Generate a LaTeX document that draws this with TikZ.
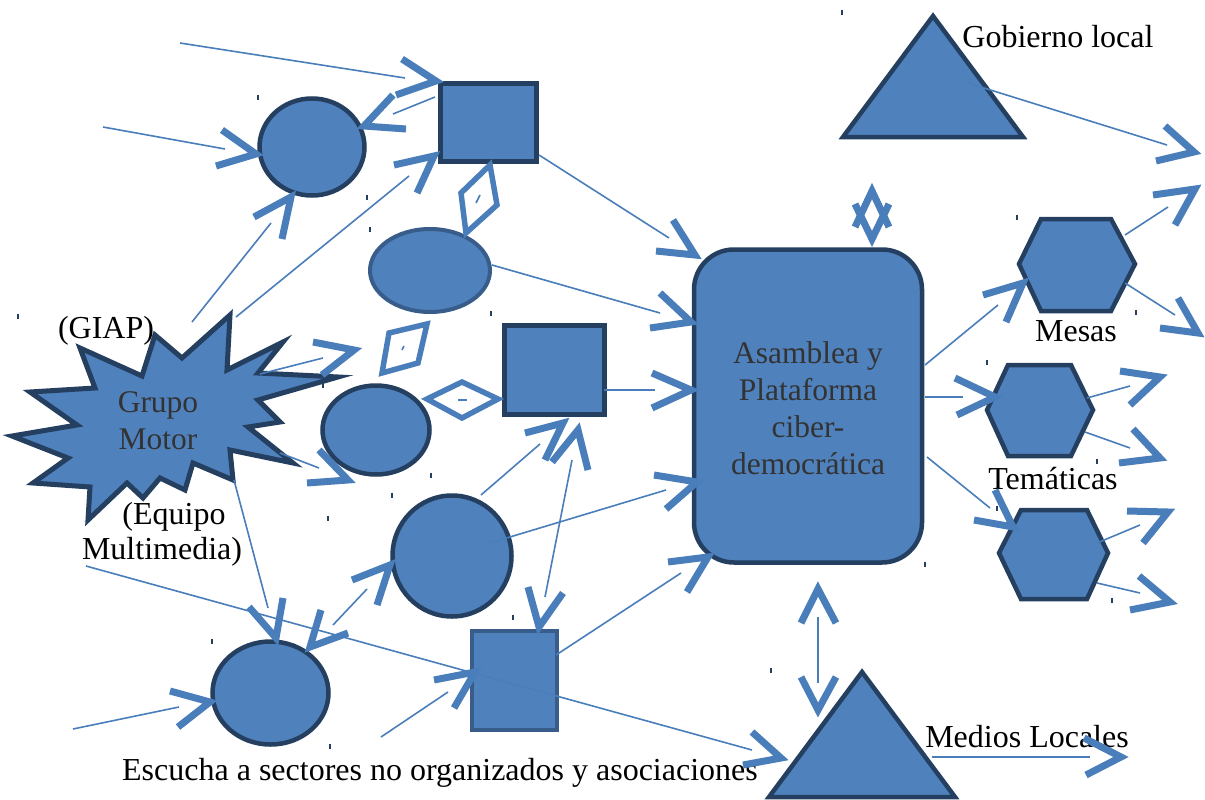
\documentclass[tikz,border=0pt]{standalone}
\usepackage{fontspec}
\setmainfont{Liberation Serif}
\usetikzlibrary{shapes.geometric}
\definecolor{fillb}{HTML}{4F81BD}
\definecolor{edge}{HTML}{243F60}
\definecolor{edgeb}{HTML}{385D8A}
\definecolor{lnb}{HTML}{4A7EBB}
\definecolor{txtg}{HTML}{333333}
\tikzset{
 shp/.style={fill=fillb, draw=edge, line width=4.5pt},
 shpb/.style={fill=fillb, draw=edgeb, line width=4pt},
 ell/.style={ellipse, inner sep=0pt, outer sep=0pt},
 boxn/.style={rectangle, inner sep=0pt, outer sep=0pt},
 conn/.style={draw=lnb, line width=1.6pt},
 chev/.style={draw=lnb, line width=7pt, line join=miter, miter limit=10},
 dia/.style={draw=lnb, line width=5.5pt, line join=miter},
 tickm/.style={draw=edge, line width=1.2pt},
 lbl/.style={font=\fontsize{32}{37}\selectfont, text=black, inner sep=0pt, align=center},
 intxt/.style={font=\fontsize{31.5}{37}\selectfont, text=txtg, inner sep=0pt, align=center},
}
\newcommand\lnk[5]{\coordinate (#1s) at (#2); \coordinate (#1e) at (#3); \draw[conn] (#1s) -- (#1e);}
\newcommand\chv[3]{\draw[chev] (#1) -- (#2) -- (#3);}
\begin{document}
\begin{tikzpicture}[x=1pt,y=-1pt]
\useasboundingbox (0,0) rectangle (1205,800);
\fill[white] (0,0) rectangle (1205,800);
% shapes
\node[shp, ell, minimum width=105, minimum height=97] (c1) at (312,147) {};
\node[shp, boxn, minimum width=96, minimum height=78] (sq1) at (488.5,122.5) {};
\node[shpb, ell, minimum width=120, minimum height=83] (e2) at (430,270.5) {};
\node[shp, boxn, minimum width=100, minimum height=89] (sq2) at (554.5,370) {};
\node[shp, ell, minimum width=107, minimum height=89] (e5) at (376,430) {};
\node[shp, ell, minimum width=119, minimum height=121] (c6) at (452,556) {};
\node[shp, ell, minimum width=116, minimum height=103] (c7) at (270.5,693) {};
\node[shpb, boxn, minimum width=85, minimum height=99] (sq3) at (514.5,680.5) {};
\node[shp, boxn, rounded corners=40pt, minimum width=228, minimum height=313] (asm) at (808,406) {};
\node[intxt] (asmt) at (808,408) {Asamblea y\\Plataforma\\ciber-\\democrática};
% triangles
\draw[shp, line join=miter] (933,16) -- (1023,137) -- (843,137) -- cycle;
\draw[shp, line join=miter] (862,672) -- (955,797) -- (769,797) -- cycle;
% hexagons
\draw[shp] (1019,264) -- (1041,219) -- (1111,219) -- (1135,264) -- (1111,311) -- (1041,311) -- cycle;
\draw[shp] (987,410) -- (1008,365) -- (1071,365) -- (1093,410) -- (1071,456) -- (1008,456) -- cycle;
\draw[shp] (999,553) -- (1021,510) -- (1087,510) -- (1108,553) -- (1087,599) -- (1021,599) -- cycle;
% star
\draw[shp, line width=5pt, line join=miter] (80,348) -- (142,376) -- (155,335) -- (182,358) -- (230,315) -- (227,370) -- (283,342) -- (258,373) -- (338,377) -- (258,400) -- (280,422) -- (248,427) -- (293,463) -- (230,450) -- (233,480) -- (193,463) -- (185,490) -- (160,478) -- (143,498) -- (127,483) -- (88,520) -- (90,487) -- (33,483) -- (68,458) -- (12,436) -- (77,425) -- (30,392) -- (95,388) -- cycle;
\node[intxt] (gm) at (158,421) {Grupo\\Motor};
% labels
\node[lbl] (lgob) at (1058,37) {Gobierno local};
\node[lbl] (lmes) at (1076,331) {Mesas};
\node[lbl] (ltem) at (1053,479) {Temáticas};
\node[lbl] (lmed) at (1027,737) {Medios Locales};
\node[lbl] (lgiap) at (106,331) {(GIAP)};
\node[lbl] (leq) at (174,517) {(Equipo};
\node[lbl] (lmul) at (162,552) {Multimedia)};
\node[lbl] (lesc) at (440,773) {Escucha a sectores no organizados y asociaciones};
% ticks
\foreach \p in {(258,97),(367,197),(370,229),(491,313),(18,316),(842,13),(1017,217),(1136,312),(987,362),(431,475),(392,495),(328,518),(212,641),(513,617),(330,746),(1097,461),(997,508),(925,564),(1112,600),(771,670),(323,385)}
  \draw[tickm] \p ++(0,-2.5) -- ++(0,5);
% connectors
\lnk{A}{180,43}{405,78}{}{} \chv{402,59}{436,81}{396,95}
\lnk{B}{435,97}{393,114}{}{} \chv{393,95}{364,126}{406,129}
\lnk{C}{103,127}{225,149}{}{} \chv{222,130}{256,154}{216,166}
\lnk{D}{192,322}{271,223}{}{} \chv{254,217}{291,197}{282,239}
\lnk{E}{236,317}{409,176}{}{} \chv{394,165}{434,156}{417,193}
\lnk{G}{539,155}{669,238}{}{} \chv{673,220}{695,255}{656,251}
\lnk{H}{492,265}{660,313}{}{} \chv{660,293}{691,322}{650,328}
\lnk{I}{604,390}{655,390}{}{} \chv{652,373}{691,390}{652,408}
\lnk{L}{260,374}{323,358}{}{} \chv{313,342}{354,350}{322,375}
\lnk{M}{280,453}{319,468}{}{} \chv{319,450}{348,480}{307,483}
\lnk{N}{481,495}{540,444}{}{} \chv{525,433}{563,423}{545,460}
\lnk{O}{572,460}{545,597}{}{} \chv{552,462}{578,430}{588,470} \chv{528,587}{539,627}{563,593}
\lnk{P}{490,543}{666,490}{}{} \chv{654,475}{697,482}{666,509}
\lnk{Q}{556,655}{681,573}{}{} \chv{668,562}{708,557}{687,592}
\lnk{R}{234,480}{268,608}{}{} \chv{249,607}{276,638}{283,598}
\lnk{S}{367,589}{333,625}{}{} \chv{352,580}{390,565}{377,605} \chv{321,610}{310,647}{348,633}
\lnk{T}{86,566}{752,750}{}{} \chv{752,732}{781,758}{743,765}
\lnk{U}{73,729}{179,707}{}{} \chv{170,691}{210,702}{178,727}
\lnk{V}{381,737}{448,692}{}{} \chv{434,680}{475,672}{454,708}
\lnk{W}{925,397}{963,397}{}{} \chv{955,378}{995,397}{957,415}
\lnk{X}{927,457}{990,508}{}{} \chv{995,490}{1013,527}{974,520}
\lnk{Ra}{925,365}{998,305}{}{} \chv{983,295}{1023,283}{1006,322}
\lnk{Ya}{1125,235}{1168,207}{}{} \chv{1153,195}{1195,189}{1175,225}
\lnk{Yb}{1125,283}{1175,315}{}{} \chv{1178,298}{1198,333}{1160,328}
\lnk{Za}{1087,398}{1130,386}{}{} \chv{1120,371}{1160,377}{1130,405}
\lnk{Zb}{1085,432}{1130,448}{}{} \chv{1133,429}{1160,458}{1119,463}
\lnk{AAa}{1097,543}{1140,525}{}{} \chv{1127,511}{1168,512}{1143,543}
\lnk{AAb}{1097,583}{1140,593}{}{} \chv{1139,576}{1170,602}{1130,610}
\lnk{BB}{968,83}{1167,145}{}{} \chv{1165,126}{1194,152}{1156,161}
\lnk{CC}{818,617}{818,683}{}{} \chv{801,623}{818,589}{836,623} \chv{801,677}{818,710}{836,677}
\chv{855,227}{872,191}{889,227} \chv{855,204}{872,239}{889,204}
\lnk{EE}{932,757}{1090,757}{}{} \chv{1084,738}{1121,757}{1086,775}
% diamonds
\draw[dia] (490,165) -- (497,205) -- (466,233) -- (461,193) -- cycle;
\draw[conn] (476,203) -- (480,195);
\draw[dia] (389,333) -- (427,324) -- (418,363) -- (382,373) -- cycle;
\draw[conn] (402,350) -- (404,346);
\draw[dia] (427,399) -- (462,382) -- (498,399) -- (462,418) -- cycle;
\draw[conn] (458,400) -- (467,400);
\end{tikzpicture}
\end{document}
